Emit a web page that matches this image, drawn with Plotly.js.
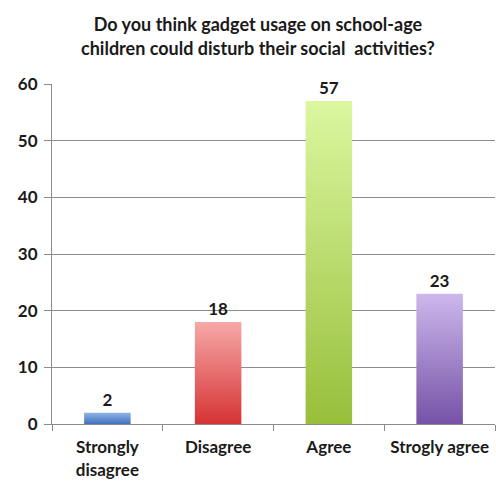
<!DOCTYPE html>
<html>
<head>
<meta charset="utf-8">
<script src="https://cdn.plot.ly/plotly-3.0.1.min.js"></script>
<style>
html,body{margin:0;padding:0;background:#fff;}
#chart{width:496px;height:481px;}
</style>
</head>
<body>
<div id="chart"></div>
<script>
const categories = ["Strongly<br>disagree", "Disagree", "Agree", "Strogly agree"];
const values = [2, 18, 57, 23];
const barColors = ["#5b8bd0", "#de5454", "#b3d96a", "#9a7cc4"];
const gradTop = ["#8fb4e8", "#f7a8a8", "#dcf7a0", "#cdb8ec"];
const gradBottom = ["#3f72bd", "#d63333", "#97bf3a", "#7552a6"];
const yTicks = [0, 10, 20, 30, 40, 50, 60];

const fontFam = "Lato, 'Liberation Sans', sans-serif";

const data = [{
  type: "bar",
  x: categories,
  y: values,
  text: values.map(String),
  textposition: "outside",
  textfont: {family: fontFam, size: 17, color: "#1a1a1a", weight: 700},
  cliponaxis: false,
  marker: {color: barColors, line: {width: 0}},
  width: 0.42,
  hoverinfo: "none"
}];

const layout = {
  width: 496,
  height: 481,
  margin: {l: 52, r: 1, t: 84, b: 57},
  paper_bgcolor: "#ffffff",
  plot_bgcolor: "#ffffff",
  showlegend: false,
  font: {family: fontFam, color: "#1a1a1a"},
  title: {
    text: "Do you think gadget usage on school-age<br>children could disturb their social  activities?",
    font: {family: fontFam, size: 18, color: "#1a1a1a", weight: 700},
    x: 0.52,
    xanchor: "center",
    y: 0.935,
    yanchor: "top"
  },
  xaxis: {
    showline: true,
    linecolor: "#8c8c8c",
    linewidth: 1,
    ticks: "outside",
    tickson: "boundaries",
    ticklen: 6,
    tickcolor: "#8c8c8c",
    ticklabelstandoff: 8,
    tickfont: {family: fontFam, size: 17, color: "#1a1a1a", weight: 700},
    showgrid: false,
    zeroline: false
  },
  yaxis: {
    range: [0, 60],
    tickvals: yTicks,
    ticktext: yTicks.map(String),
    showline: true,
    linecolor: "#8c8c8c",
    linewidth: 1,
    ticks: "outside",
    ticklen: 7,
    tickcolor: "#8c8c8c",
    ticklabelstandoff: 3,
    showgrid: true,
    gridcolor: "#8c8c8c",
    gridwidth: 1,
    zeroline: false,
    tickfont: {family: fontFam, size: 17, color: "#1a1a1a", weight: 700}
  }
};

function applyGradients(gd) {
  const svg = gd.querySelector(".main-svg");
  if (!svg) return;
  let defs = svg.querySelector("defs#barGrads");
  if (!defs) {
    defs = document.createElementNS("http://www.w3.org/2000/svg", "defs");
    defs.setAttribute("id", "barGrads");
    svg.insertBefore(defs, svg.firstChild);
    gradTop.forEach((c, i) => {
      const lg = document.createElementNS("http://www.w3.org/2000/svg", "linearGradient");
      lg.setAttribute("id", "bg" + i);
      lg.setAttribute("x1", "0"); lg.setAttribute("y1", "0");
      lg.setAttribute("x2", "0"); lg.setAttribute("y2", "1");
      const s1 = document.createElementNS("http://www.w3.org/2000/svg", "stop");
      s1.setAttribute("offset", "0"); s1.setAttribute("stop-color", gradTop[i]);
      const s2 = document.createElementNS("http://www.w3.org/2000/svg", "stop");
      s2.setAttribute("offset", "1"); s2.setAttribute("stop-color", gradBottom[i]);
      lg.appendChild(s1); lg.appendChild(s2);
      defs.appendChild(lg);
    });
  }
  gd.querySelectorAll(".trace.bars .point path").forEach((p, i) => {
    p.style.fill = "url(#bg" + i + ")";
  });
}

const gd = document.getElementById("chart");
Plotly.newPlot(gd, data, layout, {displayModeBar: false, staticPlot: true}).then(() => {
  applyGradients(gd);
  gd.on && gd.on("plotly_afterplot", () => applyGradients(gd));
});
</script>
</body>
</html>
